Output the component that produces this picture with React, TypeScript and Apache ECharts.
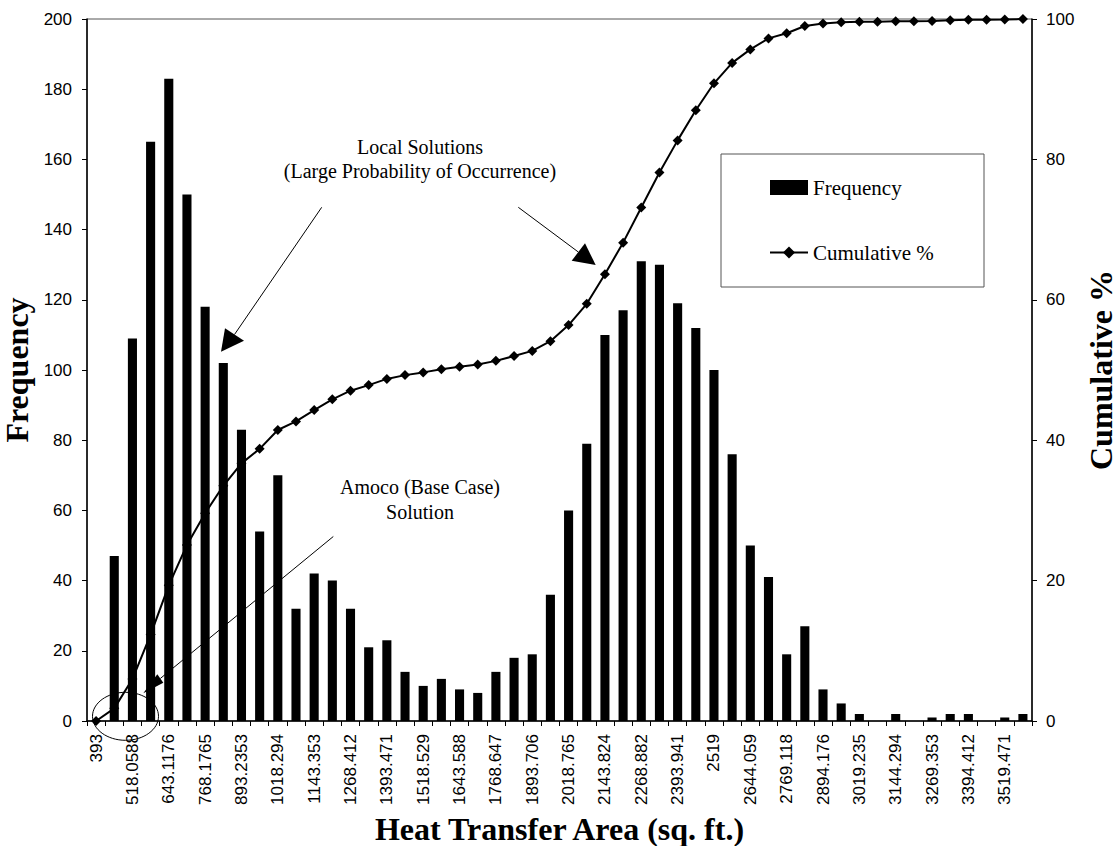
import React, { useEffect, useRef } from "react";
import * as echarts from "echarts";

const categories = [
  "393", "455.5294", "518.0588", "580.5882", "643.1176", "705.6471", "768.1765", "830.7059",
  "893.2353", "955.7647", "1018.294", "1080.824", "1143.353", "1205.882", "1268.412", "1330.941",
  "1393.471", "1456", "1518.529", "1581.059", "1643.588", "1706.118", "1768.647", "1831.176",
  "1893.706", "1956.235", "2018.765", "2081.294", "2143.824", "2206.353", "2268.882", "2331.412",
  "2393.941", "2456.471", "2519", "2581.529", "2644.059", "2706.588", "2769.118", "2831.647",
  "2894.176", "2956.706", "3019.235", "3081.765", "3144.294", "3206.824", "3269.353", "3331.882",
  "3394.412", "3456.941", "3519.471", "3582",
];

const frequency = [
  0, 47, 109, 165, 183, 150, 118, 102, 83, 54, 70, 32, 42, 40, 32, 21,
  23, 14, 10, 12, 9, 8, 14, 18, 19, 36, 60, 79, 110, 117, 131, 130,
  119, 112, 100, 76, 50, 41, 19, 27, 9, 5, 2, 0, 2, 0, 1, 2,
  2, 0, 1, 2,
];

const cumulative = [
  0, 1.8, 5.98, 12.31, 19.33, 25.08, 29.6, 33.51, 36.7, 38.77, 41.45, 42.68, 44.29, 45.82, 47.05, 47.85,
  48.73, 49.27, 49.66, 50.12, 50.46, 50.77, 51.3, 51.99, 52.72, 54.1, 56.4, 59.43, 63.65, 68.14, 73.16, 78.14,
  82.71, 87.0, 90.84, 93.75, 95.67, 97.24, 97.97, 99.0, 99.35, 99.54, 99.62, 99.62, 99.69, 99.69, 99.73, 99.81,
  99.88, 99.88, 99.92, 100,
];

const SANS = "Liberation Sans";
const SERIF = "Liberation Serif";

export default function App() {
  const ref = useRef<HTMLDivElement>(null);
  useEffect(() => {
    if (!ref.current) return;
    const chart = echarts.init(ref.current, undefined, { renderer: "svg" });
    const axisLbl = { fontFamily: SANS, fontSize: 17, color: "#000" };
    const nameStyle = { fontFamily: SERIF, fontWeight: "bold" as const, fontSize: 32, color: "#000" };
    const annot = { fontFamily: SERIF, fontSize: 20, fill: "#000", textAlign: "center" as const, textVerticalAlign: "middle" as const };
    chart.setOption({
      animation: false,
      backgroundColor: "#fff",
      grid: {
        left: 87, right: 88, top: 19, bottom: 125,
        show: true, borderColor: "#555", borderWidth: 1,
        containLabel: false, outerBoundsMode: "none",
      },
      legend: {
        orient: "vertical",
        left: 764,
        top: 172,
        itemWidth: 38,
        itemHeight: 15,
        itemGap: 44,
        textStyle: { fontFamily: SERIF, fontSize: 21, color: "#000" },
        data: [{ name: "Frequency", icon: "rect" }, { name: "Cumulative %" }],
      },
      xAxis: {
        type: "category",
        data: categories,
        axisLine: { lineStyle: { color: "#000", width: 1.5 } },
        axisTick: { show: true, interval: 0, length: 5, lineStyle: { color: "#000" } },
        axisLabel: { ...axisLbl, interval: 1, rotate: 90, margin: 13 },
        name: "Heat Transfer Area (sq. ft.)",
        nameLocation: "middle",
        nameGap: 90,
        nameTextStyle: nameStyle,
      },
      yAxis: [
        {
          type: "value",
          min: 0,
          max: 200,
          interval: 20,
          position: "left",
          axisLine: { show: true, lineStyle: { color: "#000", width: 1.5 } },
          axisTick: { show: true, length: 5, lineStyle: { color: "#000" } },
          splitLine: { show: false },
          axisLabel: { ...axisLbl, margin: 15 },
          name: "Frequency",
          nameLocation: "middle",
          nameRotate: 90,
          nameGap: 52,
          nameTextStyle: nameStyle,
        },
        {
          type: "value",
          min: 0,
          max: 100,
          interval: 20,
          position: "right",
          axisLine: { show: true, lineStyle: { color: "#000", width: 1.5 } },
          axisTick: { show: true, length: 5, lineStyle: { color: "#000" } },
          splitLine: { show: false },
          axisLabel: { ...axisLbl, margin: 14 },
          name: "Cumulative %",
          nameLocation: "middle",
          nameRotate: 90,
          nameGap: 50,
          nameTextStyle: nameStyle,
        },
      ],
      series: [
        {
          type: "bar",
          name: "Frequency",
          data: frequency,
          barWidth: "50%",
          itemStyle: { color: "#000" },
        },
        {
          type: "line",
          name: "Cumulative %",
          yAxisIndex: 1,
          data: cumulative,
          symbol: "diamond",
          symbolSize: 10,
          lineStyle: { color: "#000", width: 2 },
          itemStyle: { color: "#000" },
        },
      ],
      graphic: [
        { type: "rect", shape: { x: 721, y: 154, width: 263, height: 133 }, style: { fill: "transparent", stroke: "#555", lineWidth: 1 } },
        { type: "text", x: 420, y: 147, style: { ...annot, text: "Local Solutions" } },
        { type: "text", x: 420, y: 171, style: { ...annot, text: "(Large Probability of Occurrence)" } },
        { type: "text", x: 420, y: 487, style: { ...annot, text: "Amoco (Base Case)" } },
        { type: "text", x: 420, y: 512, style: { ...annot, text: "Solution" } },
        { type: "line", shape: { x1: 321.7, y1: 207.3, x2: 234.5, y2: 334.5 }, style: { stroke: "#000", lineWidth: 1 } },
        { type: "polygon", shape: { points: [[221, 351.7], [225, 328.3], [244, 340.7]] }, style: { fill: "#000" } },
        { type: "line", shape: { x1: 518.3, y1: 207.3, x2: 578.3, y2: 252 }, style: { stroke: "#000", lineWidth: 1 } },
        { type: "polygon", shape: { points: [[595.7, 265], [571.7, 260.7], [585, 243.3]] }, style: { fill: "#000" } },
        { type: "line", shape: { x1: 333.3, y1: 536.5, x2: 160.3, y2: 678.5 }, style: { stroke: "#000", lineWidth: 1 } },
        { type: "polygon", shape: { points: [[143.3, 693.3], [157.3, 674.3], [163.3, 682.7]] }, style: { fill: "#000" } },
        { type: "ellipse", shape: { cx: 125.5, cy: 716.3, rx: 33, ry: 24 }, style: { fill: "transparent", stroke: "#000", lineWidth: 1 } },
      ],
    });
    return () => chart.dispose();
  }, []);
  return <div ref={ref} style={{ position: "absolute", left: 0, top: 0, width: 1120, height: 846 }} />;
}
